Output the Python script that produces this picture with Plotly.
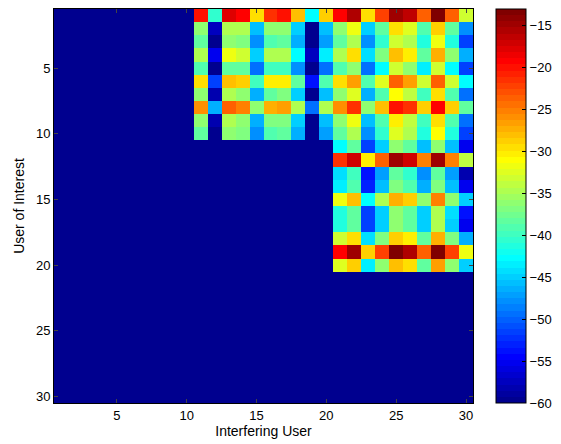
import plotly.graph_objects as go

users = list(range(1, 31))
floor_db = -60.0

# Rows 1-10 (User of Interest), columns 11-30 (Interfering User), dB
block_top = [
    [-20.1, -40.4, -18.1, -19.6, -29.5, -21.6, -20.3, -28.0, -43.1, -29.1,
     -19.6, -15.6, -29.8, -22.5, -14.5, -16.5, -23.3, -13.0, -23.3, -33.0],
    [-35.8, -57.1, -34.3, -35.0, -46.0, -36.5, -36.5, -44.7, -59.3, -45.5,
     -35.8, -31.4, -45.3, -38.7, -29.5, -32.4, -39.4, -28.9, -38.7, -48.2],
    [-38.0, -59.3, -36.5, -37.2, -48.2, -39.4, -38.7, -46.7, -59.3, -47.5,
     -38.0, -34.3, -48.2, -40.9, -33.2, -34.3, -41.6, -31.4, -41.6, -51.2],
    [-34.3, -55.5, -32.0, -33.2, -45.0, -35.0, -35.0, -42.4, -57.1, -43.2,
     -34.3, -29.5, -43.9, -37.2, -28.0, -30.6, -38.0, -27.0, -36.5, -46.7],
    [-39.4, -59.3, -38.0, -38.7, -49.7, -40.1, -40.1, -48.2, -59.6, -49.0,
     -39.4, -35.8, -49.0, -42.4, -33.2, -35.8, -43.8, -33.2, -42.4, -51.9],
    [-29.5, -51.2, -28.0, -28.9, -40.1, -30.6, -30.6, -38.7, -53.4, -39.4,
     -29.5, -26.3, -39.4, -32.7, -24.0, -26.3, -33.2, -23.3, -33.2, -42.4],
    [-36.5, -57.8, -35.0, -35.8, -46.7, -38.0, -37.2, -45.3, -59.3, -46.0,
     -36.5, -32.7, -46.7, -39.4, -31.3, -33.6, -40.1, -29.5, -39.4, -49.7],
    [-25.5, -46.7, -24.0, -24.8, -35.8, -27.0, -26.3, -34.3, -49.0, -35.0,
     -25.5, -21.8, -35.8, -28.0, -20.3, -21.8, -28.9, -18.9, -28.9, -38.7],
    [-36.5, -57.8, -34.3, -35.8, -46.7, -37.2, -37.2, -45.3, -59.3, -46.0,
     -36.5, -32.0, -46.0, -39.4, -30.6, -33.6, -40.1, -29.5, -39.4, -49.7],
    [-38.0, -59.3, -36.5, -37.2, -47.9, -39.4, -38.7, -46.4, -59.3, -47.5,
     -38.0, -34.3, -48.2, -40.9, -32.7, -35.0, -41.6, -31.3, -41.6, -51.2],
]

# Rows 11-20, columns 21-30, dB
block_mid = [
    [-42.4, -38.7, -51.9, -45.3, -36.5, -38.7, -46.0, -35.8, -46.0, -55.5],
    [-21.1, -17.4, -30.6, -24.0, -15.2, -17.4, -24.8, -14.5, -24.8, -33.6],
    [-43.9, -40.1, -54.1, -47.5, -38.7, -40.9, -48.2, -38.0, -47.5, -57.8],
    [-43.2, -39.4, -52.7, -46.0, -37.2, -39.4, -46.7, -37.2, -46.0, -55.5],
    [-32.0, -28.3, -42.4, -35.0, -27.0, -29.1, -35.8, -25.1, -35.8, -45.3],
    [-41.6, -38.0, -51.2, -45.0, -35.8, -38.0, -45.3, -35.0, -44.5, -54.1],
    [-41.6, -38.0, -51.2, -45.0, -36.5, -38.0, -45.3, -35.0, -45.3, -54.9],
    [-33.2, -29.5, -43.9, -37.2, -28.5, -30.6, -38.0, -27.0, -37.2, -46.7],
    [-19.6, -15.2, -29.1, -22.5, -13.6, -15.6, -23.3, -13.0, -22.5, -32.0],
    [-32.7, -28.9, -43.2, -36.5, -27.7, -29.8, -38.0, -26.3, -36.5, -45.3],
]

tick_vals = [5, 10, 15, 20, 25, 30]
cbar_ticks = [-60, -55, -50, -45, -40, -35, -30, -25, -20, -15]
z_min, z_max = -60.0, -13.0

# assemble matrix
z = [[floor_db] * 30 for _ in range(30)]
for i, row in enumerate(block_top):
    for j, v in enumerate(row):
        z[i][10 + j] = v
for i, row in enumerate(block_mid):
    for j, v in enumerate(row):
        z[10 + i][20 + j] = v


# MATLAB-style jet(64), stepped
def jet64():
    m = 64
    n = 16
    u = [k / n for k in range(1, n + 1)] + [1.0] * (n - 1) + [k / n for k in range(n, 0, -1)]
    R = [0.0] * m
    G = [0.0] * m
    B = [0.0] * m
    for k in range(len(u)):
        gi = 8 + k  # 0-based index
        ri = gi + n
        bi = gi - n
        if 0 <= gi < m:
            G[gi] = u[k]
        if 0 <= ri < m:
            R[ri] = u[k]
        if 0 <= bi < m:
            B[bi] = u[k]
    return [(R[i], G[i], B[i]) for i in range(m)]


cols = jet64()
cscale = []
for i, (r, g, b) in enumerate(cols):
    c = f"rgb({round(r*255)},{round(g*255)},{round(b*255)})"
    cscale.append([i / 64, c])
    cscale.append([(i + 1) / 64, c])

font = "Liberation Sans, Arial, Helvetica, sans-serif"

fig = go.Figure(go.Heatmap(
    z=z, x=users, y=users,
    zmin=z_min, zmax=z_max,
    colorscale=cscale,
    colorbar=dict(
        x=1.056, xanchor="left", xpad=0,
        y=0.5, yanchor="middle", len=1.0, lenmode="fraction", ypad=0,
        thickness=30,
        outlinewidth=1, outlinecolor="black",
        tickvals=cbar_ticks, ticks="inside", ticklen=4, tickcolor="black",
        tickfont=dict(family=font, size=13, color="black"),
    ),
    hoverongaps=False,
))

fig.update_layout(
    width=561, height=444,
    margin=dict(l=54, r=88, t=9, b=41, autoexpand=False),
    paper_bgcolor="white", plot_bgcolor="white",
    font=dict(family=font, size=13, color="black"),
    xaxis=dict(
        range=[0.5, 30.5], tickvals=tick_vals, ticks="inside", ticklen=4,
        showline=True, linecolor="black", linewidth=1, mirror="ticks",
        showgrid=False, zeroline=False, automargin=False,
        title=dict(text="Interfering User", standoff=3, font=dict(size=14)),
    ),
    yaxis=dict(
        range=[30.5, 0.5], tickvals=tick_vals, ticks="inside", ticklen=4,
        showline=True, linecolor="black", linewidth=1, mirror="ticks",
        showgrid=False, zeroline=False, automargin=False,
        title=dict(text="User of Interest", standoff=8, font=dict(size=14)),
    ),
)

fig.write_html(
    "out.html",
    config={"displayModeBar": False},
    post_script="document.body.style.margin='0';document.body.style.padding='0';",
)
